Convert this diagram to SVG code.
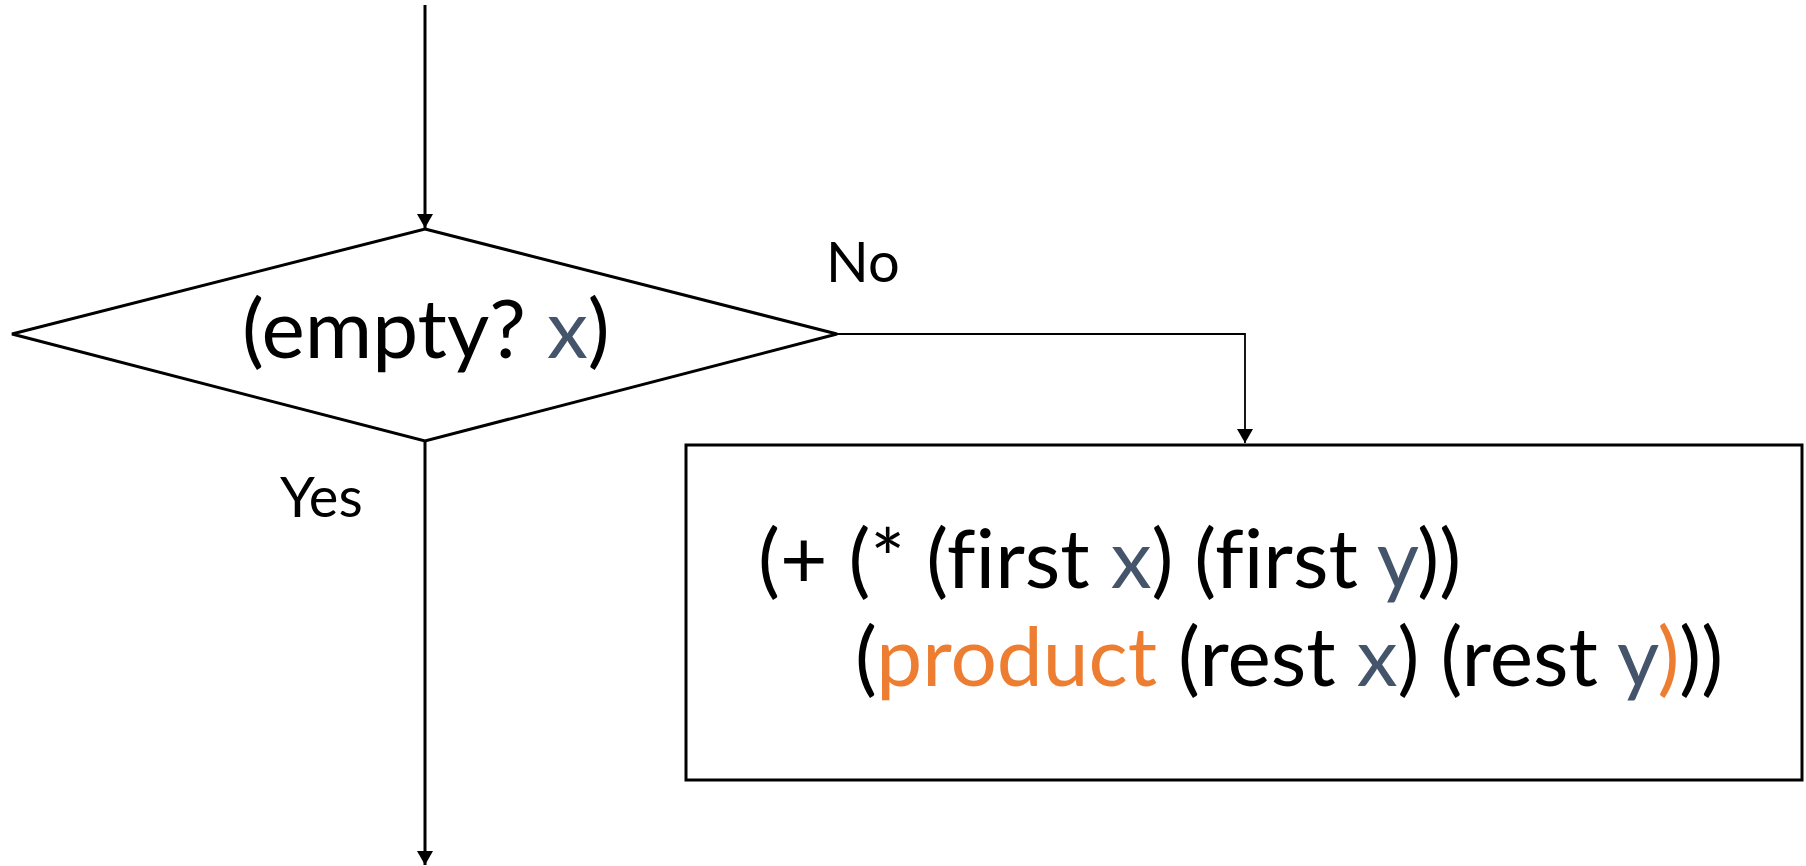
<svg xmlns="http://www.w3.org/2000/svg" width="1806" height="866" viewBox="0 0 1806 866">
<style>
.t{font-family:Lato,"Noto Sans",sans-serif;fill:#000;font-variant-ligatures:none}
.v{fill:#44546A}
.o{fill:#ED7D31}
.shape{fill:#fff;stroke:#000;stroke-width:3}
.conn{fill:none;stroke:#000}
</style>
<defs>
<marker id="ad" markerUnits="userSpaceOnUse" markerWidth="16" markerHeight="16" refX="14" refY="7" orient="auto" viewBox="0 -1 14 16" overflow="visible">
<path d="M0,-1 L14,7 L0,15 Z" fill="#000"/>
</marker>
</defs>
<rect width="1806" height="866" fill="#fff"/>
<g id="connectors">
<path class="conn" stroke-width="3" d="M425,5 V228" marker-end="url(#ad)"/>
<path class="conn" stroke-width="1.8" d="M837,334 H1245 V443" marker-end="url(#ad)"/>
<path class="conn" stroke-width="3" d="M425,441 V865" marker-end="url(#ad)"/>
<text class="t" x="826" y="282" font-size="56">No</text>
<text class="t" x="280" y="517" font-size="56">Yes</text>
</g>
<g id="decision">
<polygon class="shape" points="425,229 837,334 425,441 12,334"/>
<text class="t" x="242" y="358" font-size="82">(empty? <tspan class="v">x</tspan>)</text>
</g>
<g id="process">
<rect class="shape" x="686" y="445" width="1116" height="335"/>
<text class="t" x="758" y="588" font-size="82">(+ (* (first <tspan class="v">x</tspan>) (first <tspan class="v">y</tspan>))</text>
<text class="t" x="855" y="686" font-size="82">(<tspan class="o">product</tspan> (rest <tspan class="v">x</tspan>) (rest <tspan class="v">y</tspan><tspan class="o">)</tspan>))</text>
</g>
</svg>
